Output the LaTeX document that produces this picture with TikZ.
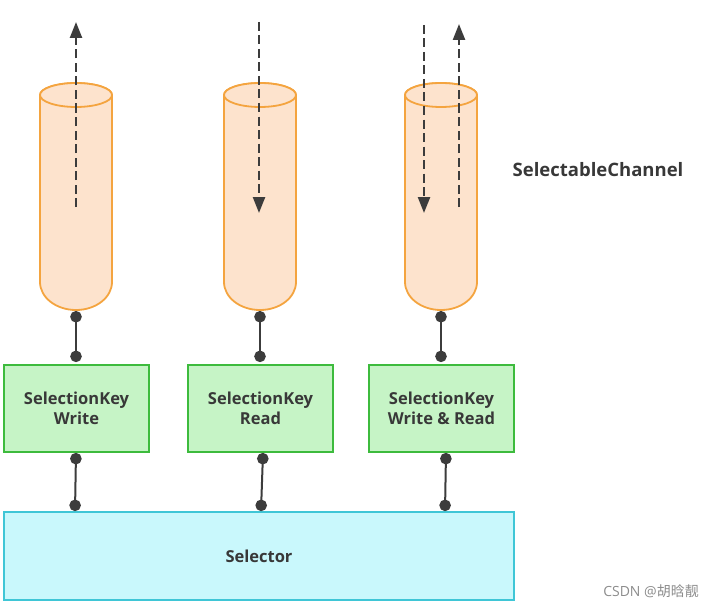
\documentclass[tikz,border=0pt]{standalone}
\usepackage{fontspec}
\setmainfont{Open Sans}
\newfontfamily\cjk{Noto Sans CJK SC}
\usetikzlibrary{arrows.meta}
\definecolor{orfill}{HTML}{FDE3CD}
\definecolor{ordraw}{HTML}{F4A43F}
\definecolor{grfill}{HTML}{C6F4C6}
\definecolor{grdraw}{HTML}{3DBB3D}
\definecolor{cyfill}{HTML}{C9F8FC}
\definecolor{cydraw}{HTML}{3FC6D6}
\definecolor{txt}{HTML}{383838}
\definecolor{dashc}{HTML}{3C3C3C}
\tikzset{
  cyl/.style={fill=orfill, draw=ordraw, line width=1.8pt},
  keybox/.style={rectangle, fill=grfill, draw=grdraw, line width=1.8pt, minimum width=145pt, minimum height=87pt, align=center, font=\bfseries\fontsize{16.5}{20}\selectfont, text=txt},
  selbox/.style={rectangle, fill=cyfill, draw=cydraw, line width=1.8pt, minimum width=510pt, minimum height=88pt, font=\bfseries\fontsize{16.5}{20}\selectfont, text=txt},
  darr/.style={dashc, line width=2.4pt, dash pattern=on 9pt off 4.5pt, -{Triangle[length=16pt,width=12pt]}},
  conn/.style={dashc, line width=2pt, {Circle[length=11.5pt]}-{Circle[length=11.5pt]}},
  lbl/.style={font=\bfseries\fontsize{18.5}{22}\selectfont, text=txt},
  wm/.style={font=\fontsize{14}{16}\selectfont, text=black!45}
}
\begin{document}
\begin{tikzpicture}[x=1pt,y=-1pt]
\useasboundingbox (0,0) rectangle (711,607);
% cylinders
\foreach \cx/\n in {76/1,260/2,441/3}{
  \filldraw[cyl] (\cx-36,95) -- (\cx-36,282) arc[start angle=180,end angle=0,x radius=36,y radius=28] -- (\cx+36,95) arc[start angle=360,end angle=180,x radius=36,y radius=12] -- cycle;
  \draw[cyl] (\cx,95) ellipse[x radius=36, y radius=12];
  \coordinate (c\n) at (\cx,311);
}
% dashed arrows
\coordinate (a1s) at (76,207); \coordinate (a1e) at (76,22);
\coordinate (a2s) at (259,22); \coordinate (a2e) at (259,213);
\coordinate (a3s) at (424,25); \coordinate (a3e) at (424,213);
\coordinate (a4s) at (459,207); \coordinate (a4e) at (459,24);
\draw[darr] (a1s) -- (a1e);
\draw[darr] (a2s) -- (a2e);
\draw[darr] (a3s) -- (a3e);
\draw[darr] (a4s) -- (a4e);
% key boxes
\node[keybox] (k1) at (76.5,408.5) {SelectionKey\\Write};
\node[keybox] (k2) at (260.5,408.5) {SelectionKey\\Read};
\node[keybox] (k3) at (441.5,408.5) {SelectionKey\\Write \& Read};
% selector
\node[selbox] (sel) at (259,556) {Selector};
% label
\node[lbl] (lab) at (598,170) {SelectableChannel};
% connectors
\draw[conn, shorten >=2pt] (c1) -- (k1.north -| c1);
\draw[conn, shorten >=2pt] (c2) -- (k2.north -| c2);
\draw[conn, shorten >=2pt] (c3) -- (k3.north -| c3);
\draw[conn] (k1.south -| 76,0) -- (sel.north -| 75,0);
\draw[conn] (k2.south -| 263,0) -- (sel.north -| 261,0);
\draw[conn] (k3.south -| 446,0) -- (sel.north -| 445,0);
% watermark
\node[wm] (wm) at (651,591) {CSDN @{\cjk 胡晗靓}};
\end{tikzpicture}
\end{document}
